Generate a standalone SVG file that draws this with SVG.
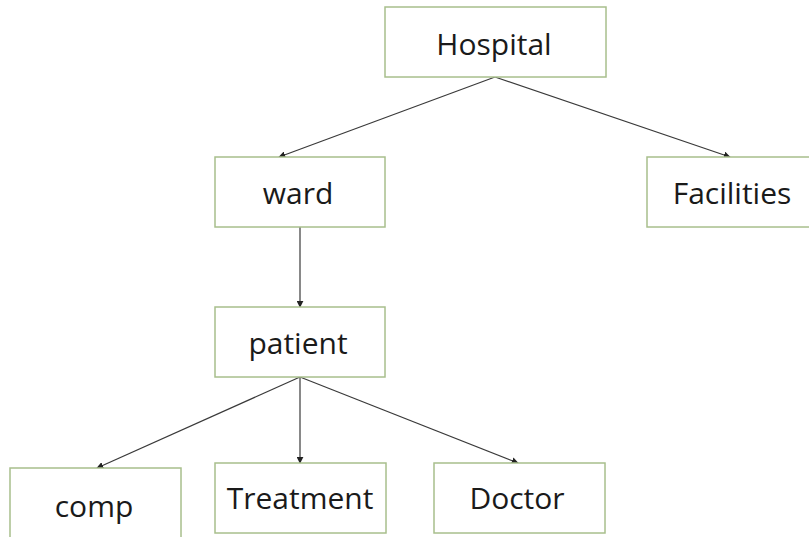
<svg xmlns="http://www.w3.org/2000/svg" width="809" height="537" viewBox="0 0 809 537">
<style>
.box{fill:#ffffff;stroke:#a8bf8c;stroke-width:1.5}
.lbl{font-family:"Open Sans","Noto Sans","Liberation Sans",sans-serif;font-size:30px;fill:#1a1a1a;text-anchor:middle;dominant-baseline:central}
.edge{stroke:#3a3a3a;stroke-width:1.2;fill:none;marker-end:url(#ah)}
</style>
<defs>
<marker id="ah" viewBox="0 0 10 10" refX="9" refY="5" markerWidth="7" markerHeight="7" markerUnits="userSpaceOnUse" orient="auto">
<path d="M0,0 L10,5 L0,10 z" fill="#222222"/>
</marker>
</defs>
<rect width="809" height="537" fill="#ffffff"/>
<g id="connectors">
<line class="edge" x1="495" y1="77" x2="279" y2="157"/>
<line class="edge" x1="495" y1="77" x2="730" y2="157"/>
<line class="edge" x1="300" y1="227" x2="300" y2="307"/>
<line class="edge" x1="300" y1="377" x2="97" y2="468"/>
<line class="edge" x1="300" y1="377" x2="300" y2="463"/>
<line class="edge" x1="300" y1="377" x2="518" y2="463"/>
</g>
<g id="hospital"><rect class="box" x="385" y="7" width="221" height="70"/><text class="lbl" x="494" y="43">Hospital</text></g>
<g id="ward"><rect class="box" x="215" y="157" width="170" height="70"/><text class="lbl" x="298" y="192">ward</text></g>
<g id="facilities"><rect class="box" x="647" y="157" width="170" height="70"/><text class="lbl" x="732" y="192">Facilities</text></g>
<g id="patient"><rect class="box" x="215" y="307" width="170" height="70"/><text class="lbl" x="298" y="342">patient</text></g>
<g id="comp"><rect class="box" x="10" y="468" width="171" height="75"/><text class="lbl" x="94" y="505">comp</text></g>
<g id="treatment"><rect class="box" x="215" y="463" width="171" height="70"/><text class="lbl" x="300" y="497">Treatment</text></g>
<g id="doctor"><rect class="box" x="434" y="463" width="171" height="70"/><text class="lbl" x="517" y="497">Doctor</text></g>
</svg>
